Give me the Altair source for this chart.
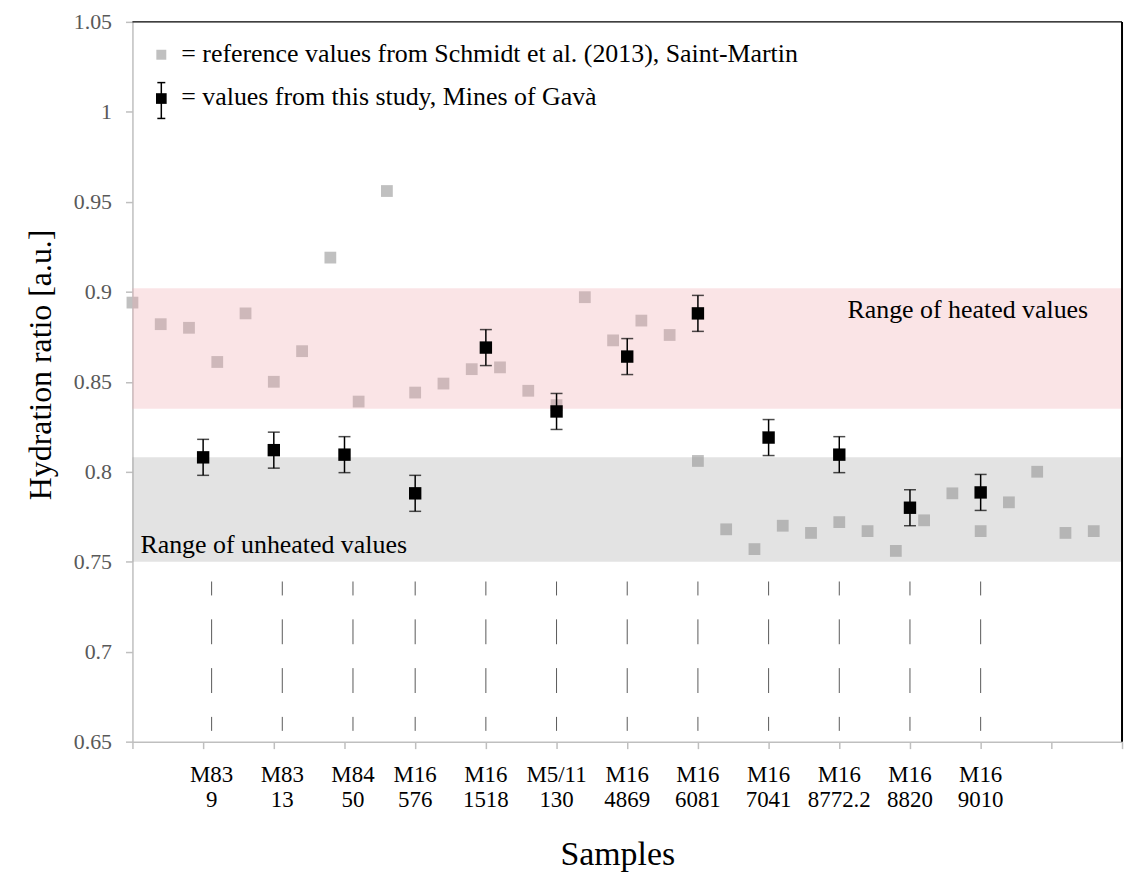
import altair as alt
import pandas as pd

FONT = "Liberation Serif"
W, H = 994, 723

# ---------------- data ----------------
ref_x = [0, 0.4, 0.8, 1.2, 1.6, 2.0, 2.4, 2.8, 3.2, 3.6, 4.0, 4.4, 4.8, 5.2, 5.6,
         6.0, 6.4, 6.8, 7.2, 7.6, 8.0, 8.4, 8.8, 9.2, 9.6, 10.0, 10.4, 10.8, 11.2,
         11.6, 12.0, 12.4, 12.8, 13.2, 13.6]
ref_y = [0.894, 0.882, 0.880, 0.861, 0.888, 0.850, 0.867, 0.919, 0.839, 0.956,
         0.844, 0.849, 0.857, 0.858, 0.845, 0.837, 0.897, 0.873, 0.884, 0.876,
         0.806, 0.768, 0.757, 0.770, 0.766, 0.772, 0.767, 0.756, 0.773, 0.788,
         0.767, 0.783, 0.800, 0.766, 0.767]

study_x = [1, 2, 3, 4, 5, 6, 7, 8, 9, 10, 11, 12]
study_y = [0.808, 0.812, 0.8095, 0.788, 0.869, 0.8335, 0.864, 0.888, 0.819,
           0.8095, 0.780, 0.7885]
study_err = [0.01, 0.01, 0.01, 0.01, 0.01, 0.01, 0.01, 0.01, 0.01, 0.01, 0.01, 0.01]

sample_labels = ["M83\n9", "M83\n13", "M84\n50", "M16\n576", "M16\n1518",
                 "M5/11\n130", "M16\n4869", "M16\n6081", "M16\n7041",
                 "M16\n8772.2", "M16\n8820", "M16\n9010"]
label_x = [1.12, 2.12, 3.12, 4, 5, 6, 7, 8, 9, 10, 11, 12]
dash_span = [0.656, 0.739]

heated_range = [0.835, 0.902]
unheated_range = [0.75, 0.808]
x_extent = [0, 14]

x_ticks = [0, 1, 2, 3, 4, 5, 6, 7, 8, 9, 10, 11, 12, 13, 14]
y_ticks = [0.65, 0.7, 0.75, 0.8, 0.85, 0.9, 0.95, 1.0, 1.05]

legend_texts = ["= reference values from Schmidt et al. (2013), Saint-Martin",
                "= values from this study, Mines of Gavà"]
range_texts = ["Range of heated values", "Range of unheated values"]

# ---------------- tables ----------------
ref_df = pd.DataFrame({"x": ref_x, "y": ref_y})
study_df = pd.DataFrame({"x": study_x, "y": study_y, "e": study_err})
lab_df = pd.DataFrame({"x": label_x, "label": sample_labels,
                       "y": [dash_span[1]] * len(label_x),
                       "y2": [dash_span[0]] * len(label_x)})
heated_df = pd.DataFrame({"x": [x_extent[0]], "x2": [x_extent[1]],
                          "y": [heated_range[0]], "y2": [heated_range[1]]})
unheated_df = pd.DataFrame({"x": [x_extent[0]], "x2": [x_extent[1]],
                            "y": [unheated_range[0]], "y2": [unheated_range[1]]})
one = pd.DataFrame({"k": [0]})

xs = alt.Scale(domain=x_extent, nice=False, zero=False)
ys = alt.Scale(domain=[y_ticks[0], y_ticks[-1]], nice=False, zero=False)

xaxis = alt.Axis(values=x_ticks, labels=False, grid=False, tickSize=7,
                 tickColor="#bfbfbf", tickWidth=1.5, domainColor="#bfbfbf",
                 domainWidth=1.5, title="Samples", titleFont=FONT,
                 titleFontSize=34, titleFontWeight="normal", titleColor="black",
                 titleX=487, titleY=123, titleBaseline="alphabetic",
                 titleAlign="center")
yaxis = alt.Axis(values=y_ticks, format=".3~g", grid=False, tickSize=7,
                 tickColor="#bfbfbf", tickWidth=1.5, domainColor="#bfbfbf",
                 domainWidth=1.5, labelFont=FONT, labelFontSize=22,
                 labelColor="#595959", labelPadding=14,
                 title="Hydration ratio [a.u.]", titleFont=FONT,
                 titleFontSize=32, titleFontWeight="normal", titleColor="black",
                 titlePadding=16, titleY=344)


def X(f):
    return alt.X(f + ":Q", scale=xs, axis=xaxis)


def Y(f):
    return alt.Y(f + ":Q", scale=ys, axis=yaxis)


ref_pts = alt.Chart(ref_df).mark_square(size=140, color="#c0c0c0", opacity=1).encode(
    x=X("x"), y=Y("y"))

unheated_band = alt.Chart(unheated_df).mark_rect(color="#969696", opacity=0.27).encode(
    x=X("x"), x2="x2:Q", y=Y("y"), y2="y2:Q")

heated_band = alt.Chart(heated_df).mark_rect(color="#eea5ac", opacity=0.3).encode(
    x=X("x"), x2="x2:Q", y=Y("y"), y2="y2:Q")

dashes = alt.Chart(lab_df).mark_rule(color="#595959", strokeWidth=1,
                                     strokeDash=[25, 24], strokeDashOffset=11).encode(
    x=X("x"), y=Y("y"), y2="y2:Q")

sample_text = alt.Chart(lab_df).mark_text(
    font=FONT, fontSize=23, lineBreak="\n", lineHeight=25, align="center",
    baseline="alphabetic", color="black").encode(
    x=X("x"), y=alt.value(H + 41), text="label:N")

err_base = alt.Chart(study_df).transform_calculate(
    lo="datum.y - datum.e", hi="datum.y + datum.e")
err_rule = err_base.mark_rule(color="black", strokeWidth=1.5).encode(
    x=X("x"), y=Y("lo"), y2="hi:Q")
err_cap_lo = err_base.mark_tick(color="black", orient="horizontal", size=12,
                                thickness=1.5).encode(x=X("x"), y=Y("lo"))
err_cap_hi = err_base.mark_tick(color="black", orient="horizontal", size=12,
                                thickness=1.5).encode(x=X("x"), y=Y("hi"))
study_pts = alt.Chart(study_df).mark_square(size=155, color="black", opacity=1).encode(
    x=X("x"), y=Y("y"))

# borders (top and right)
top_border = alt.Chart(one).mark_rule(color="black", strokeWidth=1.5).encode(
    x=alt.value(0), x2=alt.value(W), y=alt.value(0))
right_border = alt.Chart(one).mark_rule(color="black", strokeWidth=2).encode(
    x=alt.value(W), y=alt.value(0), y2=alt.value(H))

# range annotations
heated_txt = alt.Chart(one).mark_text(font=FONT, fontSize=26, align="right",
                                      baseline="alphabetic", color="black").encode(
    x=alt.value(960), y=alt.value(297), text=alt.value(range_texts[0]))
unheated_txt = alt.Chart(one).mark_text(font=FONT, fontSize=26, align="left",
                                        baseline="alphabetic", color="black").encode(
    x=alt.value(8), y=alt.value(533), text=alt.value(range_texts[1]))

# legend
leg_gray = alt.Chart(one).mark_square(size=100, color="#c0c0c0", opacity=1).encode(
    x=alt.value(29), y=alt.value(33))
leg_black = alt.Chart(one).mark_square(size=115, color="black", opacity=1).encode(
    x=alt.value(29), y=alt.value(77))
leg_err = alt.Chart(one).mark_rule(color="black", strokeWidth=1.5).encode(
    x=alt.value(29), y=alt.value(61), y2=alt.value(97))
leg_cap1 = alt.Chart(one).mark_rule(color="black", strokeWidth=1.5).encode(
    x=alt.value(25), x2=alt.value(33), y=alt.value(61))
leg_cap2 = alt.Chart(one).mark_rule(color="black", strokeWidth=1.5).encode(
    x=alt.value(25), x2=alt.value(33), y=alt.value(97))
leg_t1 = alt.Chart(one).mark_text(font=FONT, fontSize=26, align="left",
                                  baseline="alphabetic", color="black").encode(
    x=alt.value(49), y=alt.value(40), text=alt.value(legend_texts[0]))
leg_t2 = alt.Chart(one).mark_text(font=FONT, fontSize=26, align="left",
                                  baseline="alphabetic", color="black").encode(
    x=alt.value(49), y=alt.value(83), text=alt.value(legend_texts[1]))

chart = alt.layer(
    ref_pts, unheated_band, heated_band, dashes, sample_text,
    err_rule, err_cap_lo, err_cap_hi, study_pts,
    top_border, right_border, heated_txt, unheated_txt,
    leg_gray, leg_black, leg_err, leg_cap1, leg_cap2, leg_t1, leg_t2
).properties(
    width=W, height=H,
    autosize=alt.AutoSizeParams(type="none"),
    padding={"left": 125, "top": 12, "right": 4, "bottom": 132},
    background="white"
).configure_view(stroke=None)

chart.save("out.html", embed_options={"renderer": "svg", "actions": False})
